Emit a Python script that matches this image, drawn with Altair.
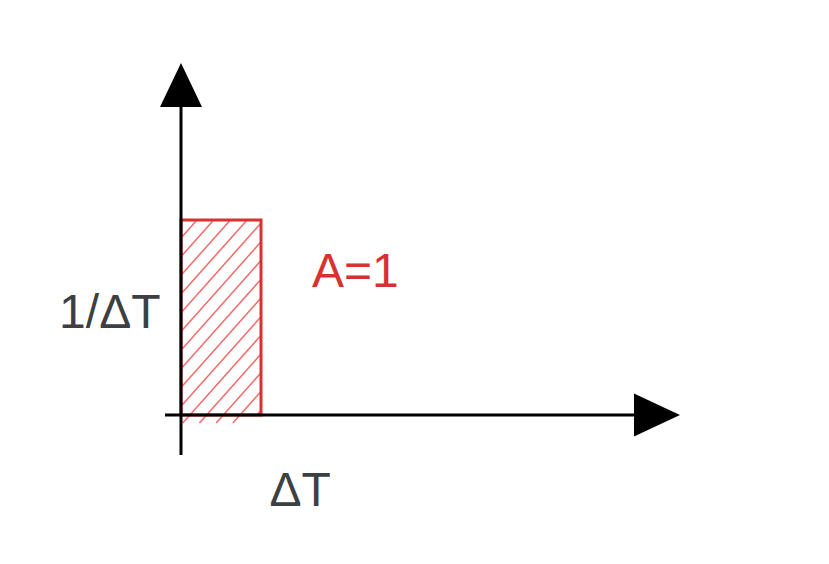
import altair as alt
import pandas as pd
import numpy as np

# ---- data (units: 1 x-unit = ΔT, 1 y-unit = 1/ΔT) ----
pulse_x = [0.0, 1.0]          # pulse from 0 to ΔT
pulse_y = [0.0, 1.0]          # height 1/ΔT
y_axis_span = [-0.205, 1.59]
x_axis_span = [-0.2, 5.69]
y_arrow = {"base": 1.579, "tip": 1.805, "half": 0.2625}
x_arrow = {"base": 5.6625, "tip": 6.2375, "half": 0.11}
labels = ["1/ΔT", "ΔT", "A=1"]
label_x = [-0.89, 1.49, 2.18]
label_y = [0.518, -0.395, 0.728]
label_color = ["#3c4043", "#3c4043", "#d93030"]

PX_X = 80.0   # pixels per x-unit
PX_Y = 195.0  # pixels per y-unit
W, H = 813, 548
xdom = [-173 / PX_X, 640 / PX_X]
ydom = [-141 / PX_Y, 407 / PX_Y]
xs = alt.Scale(domain=xdom, nice=False, zero=False)
ys = alt.Scale(domain=ydom, nice=False, zero=False)

# hatch segments (decoration) clipped to the pulse box, slight overshoot below
gap, slope = 16.7 / PX_X, 1.12 * PX_X / PX_Y
segs = []
ybot = -8 / PX_Y
over_max_x = 66 / PX_X
xt = pulse_x[0] + 16 / PX_X
while True:
    x_start = max(pulse_x[0], xt - (pulse_y[1] - ybot) / slope)
    x_end = min(pulse_x[1], xt)
    # x where the line crosses the time axis
    x_cross = xt - (pulse_y[1] - pulse_y[0]) / slope
    if x_cross > over_max_x:
        x_start = max(x_start, x_cross)
    if x_end > x_start:
        segs.append(dict(x=x_start, y=pulse_y[1] - slope * (xt - x_start),
                         x2=x_end, y2=pulse_y[1] - slope * (xt - x_end)))
    xt += gap
    if xt > pulse_x[1] + (pulse_y[1] - ybot) / slope:
        break
hatch = pd.DataFrame(segs)

hatch_l = alt.Chart(hatch).mark_rule(color="#f26a6a", strokeWidth=1.5).encode(
    x=alt.X("x:Q", scale=xs, axis=None), y=alt.Y("y:Q", scale=ys, axis=None),
    x2="x2:Q", y2="y2:Q")

box = pd.DataFrame({"x": [pulse_x[0]], "x2": [pulse_x[1]],
                    "y": [pulse_y[0]], "y2": [pulse_y[1]]})
box_l = alt.Chart(box).mark_rect(fill=None, stroke="#d93030", strokeWidth=3).encode(
    x=alt.X("x:Q", scale=xs, axis=None), x2="x2:Q",
    y=alt.Y("y:Q", scale=ys, axis=None), y2="y2:Q")

axes = pd.DataFrame([
    dict(x=0.0, x2=0.0, y=y_axis_span[0], y2=y_axis_span[1]),
    dict(x=x_axis_span[0], x2=x_axis_span[1], y=0.0, y2=0.0),
])
axes_l = alt.Chart(axes).mark_rule(color="black", strokeWidth=3).encode(
    x=alt.X("x:Q", scale=xs, axis=None), x2="x2:Q",
    y=alt.Y("y:Q", scale=ys, axis=None), y2="y2:Q")

up = pd.DataFrame({"y": [y_arrow["base"], y_arrow["tip"]],
                   "x": [-y_arrow["half"], 0.0], "x2": [y_arrow["half"], 0.0]})
up_l = alt.Chart(up).mark_area(orient="horizontal", color="black").encode(
    y=alt.Y("y:Q", scale=ys, axis=None),
    x=alt.X("x:Q", scale=xs, axis=None), x2="x2:Q")

right = pd.DataFrame({"x": [x_arrow["base"], x_arrow["tip"]],
                      "y": [-x_arrow["half"], 0.0], "y2": [x_arrow["half"], 0.0]})
right_l = alt.Chart(right).mark_area(orient="vertical", color="black").encode(
    x=alt.X("x:Q", scale=xs, axis=None),
    y=alt.Y("y:Q", scale=ys, axis=None), y2="y2:Q")

txt = pd.DataFrame({"t": labels, "x": label_x, "y": label_y, "c": label_color})
txt_l = alt.Chart(txt).mark_text(font="Liberation Sans", fontSize=48,
                                 align="center", baseline="middle").encode(
    x=alt.X("x:Q", scale=xs, axis=None), y=alt.Y("y:Q", scale=ys, axis=None),
    text="t:N", color=alt.Color("c:N", scale=None))

chart = alt.layer(hatch_l, box_l, axes_l, up_l, right_l, txt_l).properties(
    width=W, height=H, autosize=alt.AutoSizeParams(type="none"),
    padding=0, background="white"
).configure_view(stroke=None)

chart.save("out.html", embed_options={"renderer": "svg", "actions": False})
